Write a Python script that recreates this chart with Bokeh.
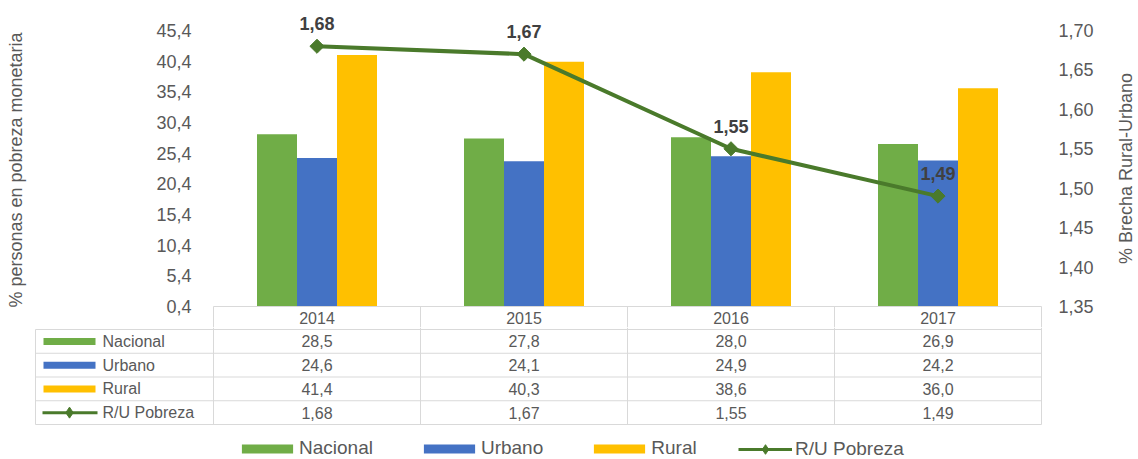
import numpy as np
from bokeh.plotting import figure
from bokeh.models import (Range1d, LinearAxis, FixedTicker, CustomJSTickFormatter,
                          Legend, LegendItem)
from bokeh.layouts import column, row
from bokeh.embed import file_html
from bokeh.resources import INLINE
from bokeh.core.properties import value

# ---------------- data ----------------
YEARS = ["2014", "2015", "2016", "2017"]
NACIONAL = [28.5, 27.8, 28.0, 26.9]
URBANO = [24.6, 24.1, 24.9, 24.2]
RURAL = [41.4, 40.3, 38.6, 36.0]
RATIO = [1.68, 1.67, 1.55, 1.49]
SERIES = ["Nacional", "Urbano", "Rural"]
RATIO_NAME = "R/U Pobreza"
LEFT_TICKS = [0.4, 5.4, 10.4, 15.4, 20.4, 25.4, 30.4, 35.4, 40.4, 45.4]
RIGHT_TICKS = [1.35, 1.40, 1.45, 1.50, 1.55, 1.60, 1.65, 1.70]
LEFT_TITLE = "% personas en pobreza monetaria"
RIGHT_TITLE = "% Brecha Rural-Urbano"

# ---------------- style ----------------
COLORS = ["#70AD47", "#4472C4", "#FFC000"]
LINE_COLOR = "#4A7A2B"
TEXT = "#595959"
LABEL_TEXT = "#404040"
GRID = "#D9D9D9"
FONT = "Liberation Sans"

# ---------------- layout (page pixels) ----------------
W = 1138
TITLE_W = 22          # strip at the far right holding the right-axis title
COL_W = 207
LEFT_COL_W = 178
PAD = 2
X_START = 213
TOP_PAGE = 12
AX_MIN_PAGE = 306
AX_MAX_PAGE = 30
ROW_H = 23.75
SPLIT = 327
TABLE_TOP = 329
BOTTOM = 459
BAR_PX = 40
RTITLE_Y = 168

n = len(YEARS)
xs = np.arange(n) + 0.5

def fmt(v, d):
    return f"{v:.{d}f}".replace(".", ",")

# ---------------- chart figure ----------------
lo, hi = LEFT_TICKS[0], LEFT_TICKS[-1]
sc = (AX_MIN_PAGE - AX_MAX_PAGE) / (hi - lo)
y_range = Range1d(lo - (SPLIT - AX_MIN_PAGE) / sc, hi + (AX_MAX_PAGE - TOP_PAGE) / sc)
rlo, rhi = RIGHT_TICKS[0], RIGHT_TICKS[-1]
rsc = (AX_MIN_PAGE - AX_MAX_PAGE) / (rhi - rlo)
r_range = Range1d(rlo - (SPLIT - AX_MIN_PAGE) / rsc, rhi + (AX_MAX_PAGE - TOP_PAGE) / rsc)

frame_right = X_START + n * COL_W + PAD
W1 = W - TITLE_W
p1 = figure(width=W1, height=SPLIT,
            x_range=Range1d(-PAD / COL_W, n + PAD / COL_W), y_range=y_range,
            x_axis_type=None, toolbar_location=None, output_backend="svg",
            min_border_left=X_START - PAD, min_border_right=W1 - frame_right,
            min_border_top=TOP_PAGE, min_border_bottom=0)
p1.frame_align = False
p1.extra_y_ranges = {"ratio": r_range}
p1.outline_line_color = None
p1.grid.visible = False

def style_axis(ax, standoff, label_standoff):
    ax.axis_line_color = None
    ax.major_tick_line_color = None
    ax.minor_tick_line_color = None
    ax.major_tick_out = 0
    ax.major_tick_in = 0
    ax.major_label_standoff = standoff
    ax.major_label_text_font = FONT
    ax.major_label_text_font_size = "18px"
    ax.major_label_text_color = TEXT
    ax.axis_label_text_font = FONT
    ax.axis_label_text_font_size = "18px"
    ax.axis_label_text_font_style = "normal"
    ax.axis_label_text_color = TEXT
    ax.axis_label_standoff = label_standoff

lax = p1.yaxis[0]
lax.ticker = FixedTicker(ticks=LEFT_TICKS)
lax.formatter = CustomJSTickFormatter(code="return tick.toFixed(1).replace('.', ',')")
lax.axis_label = LEFT_TITLE
style_axis(lax, 20, 127)

rax = LinearAxis(y_range_name="ratio", ticker=FixedTicker(ticks=RIGHT_TICKS),
                 formatter=CustomJSTickFormatter(code="return tick.toFixed(2).replace('.', ',')"))
style_axis(rax, 15, 0)
p1.add_layout(rax, "right")

bar_w = BAR_PX / COL_W
offsets = (np.arange(len(SERIES)) - (len(SERIES) - 1) / 2) * bar_w
for k, vals in enumerate([NACIONAL, URBANO, RURAL]):
    p1.vbar(x=xs + offsets[k], top=vals, bottom=lo, width=bar_w,
            fill_color=COLORS[k], line_color=None)

p1.line(xs, RATIO, y_range_name="ratio", line_width=4, line_color=LINE_COLOR)
p1.scatter(xs, RATIO, y_range_name="ratio", marker="square", angle=np.pi / 4, size=10,
           fill_color=LINE_COLOR, line_color=LINE_COLOR)
p1.text(x=xs, y=RATIO, text=[fmt(v, 2) for v in RATIO], y_range_name="ratio",
        text_align="center", text_baseline="bottom", y_offset=-16,
        text_font=value(FONT), text_font_style="bold", text_font_size="18px",
        text_color=LABEL_TEXT)

# header row of the data table (years), under the plot area
p1.segment(x0=[0], y0=[lo], x1=[n], y1=[lo], line_color=GRID, line_width=1)
p1.segment(x0=list(range(n + 1)), y0=[lo] * (n + 1), x1=list(range(n + 1)),
           y1=[y_range.start] * (n + 1), line_color=GRID, line_width=1)
hdr_y = lo - ((TABLE_TOP - AX_MIN_PAGE) / 2) / sc
p1.text(x=xs, y=[hdr_y] * n, text=YEARS, text_align="center", text_baseline="middle",
        text_font=value(FONT), text_font_size="16px", text_color=TEXT)

# ---------------- right-axis title strip ----------------
pt = figure(width=TITLE_W, height=SPLIT, x_range=Range1d(0, 1), y_range=Range1d(SPLIT, 0),
            x_axis_type=None, y_axis_type=None, toolbar_location=None, output_backend="svg",
            min_border_left=0, min_border_right=0, min_border_top=0, min_border_bottom=0)
pt.frame_align = False
pt.outline_line_color = None
pt.grid.visible = False
pt.text(x=[0.45], y=[RTITLE_Y], text=[RIGHT_TITLE], angle=np.pi / 2,
        text_align="center", text_baseline="middle",
        text_font=value(FONT), text_font_size="18px", text_color=TEXT)

# ---------------- table figure ----------------
L = LEFT_COL_W / COL_W
p2 = figure(width=W, height=BOTTOM - SPLIT,
            x_range=Range1d(-(LEFT_COL_W + PAD) / COL_W, n + PAD / COL_W),
            y_range=Range1d((BOTTOM - TABLE_TOP) / ROW_H, -(TABLE_TOP - SPLIT) / ROW_H),
            x_axis_type=None, y_axis_type=None, toolbar_location=None, output_backend="svg",
            min_border_left=X_START - LEFT_COL_W - PAD,
            min_border_right=W - frame_right, min_border_top=0, min_border_bottom=0)
p2.frame_align = False
p2.outline_line_color = None
p2.grid.visible = False

rows = SERIES + [RATIO_NAME]
nr = len(rows)
p2.segment(x0=[-L] * (nr + 1), y0=list(range(nr + 1)), x1=[n] * (nr + 1),
           y1=list(range(nr + 1)), line_color=GRID, line_width=1)
p2.segment(x0=[-L], y0=[0], x1=[-L], y1=[nr], line_color=GRID, line_width=1)
p2.segment(x0=list(range(n + 1)), y0=[p2.y_range.end] * (n + 1), x1=list(range(n + 1)),
           y1=[nr] * (n + 1), line_color=GRID, line_width=1)

row_vals = [[fmt(v, 1) for v in NACIONAL], [fmt(v, 1) for v in URBANO],
            [fmt(v, 1) for v in RURAL], [fmt(v, 2) for v in RATIO]]
for i, vals in enumerate(row_vals):
    p2.text(x=xs, y=[i + 0.5] * n, text=vals, text_align="center", text_baseline="middle",
            text_font=value(FONT), text_font_size="16px", text_color=TEXT)
ry = np.arange(nr) + 0.5
p2.text(x=[-L + 67 / COL_W] * nr, y=ry, text=rows, text_align="left", text_baseline="middle",
        text_font=value(FONT), text_font_size="16px", text_color=TEXT)

sw_renderers = []
for k in range(len(SERIES)):
    r = p2.rect(x=[-L + 34 / COL_W], y=[ry[k]], width=52, height=7,
                width_units="screen", height_units="screen",
                fill_color=COLORS[k], line_color=None)
    sw_renderers.append(r)
seg_r = p2.segment(x0=[-L + 7 / COL_W], y0=[ry[-1]], x1=[-L + 62 / COL_W], y1=[ry[-1]],
                   line_color=LINE_COLOR, line_width=3)
dia_r = p2.scatter(x=[-L + 34 / COL_W], y=[ry[-1]], marker="diamond",
                   size=11, fill_color=LINE_COLOR, line_color=LINE_COLOR)

def make_legend(items, loc, gw, gh, standoff):
    return Legend(items=items, orientation="horizontal", location=loc,
                  glyph_width=gw, glyph_height=gh, label_standoff=standoff, spacing=44,
                  padding=0, margin=0, border_line_color=None, background_fill_alpha=0,
                  label_text_font=FONT, label_text_font_size="19px",
                  label_text_color=TEXT)

leg1 = make_legend([LegendItem(label=s, renderers=[r]) for s, r in zip(SERIES, sw_renderers)],
                   (202, 0), 64, 11, 0)
leg2 = make_legend([LegendItem(label=RATIO_NAME, renderers=[seg_r, dia_r])],
                   (705, -2), 54, 24, 3)
p2.add_layout(leg1)
p2.add_layout(leg2)

layout = column(row(p1, pt), p2)
open("out.html", "w").write(file_html(layout, INLINE))
